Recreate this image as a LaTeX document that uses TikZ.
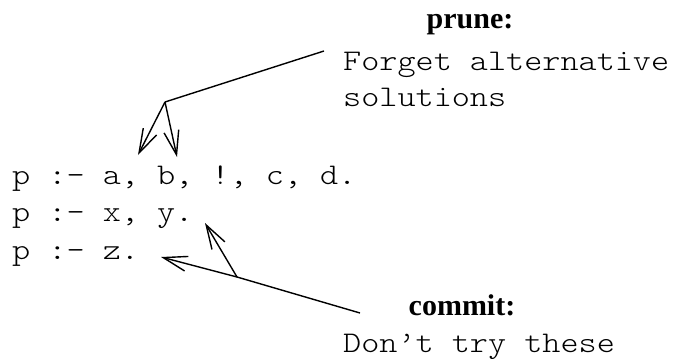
\documentclass[tikz,border=0pt]{standalone}
\usepackage{fontspec}
\setmainfont{Liberation Serif}
\newfontfamily\cour{lmmonolt10-regular.otf}[FakeStretch=1.15]
\usetikzlibrary{arrows.meta}
\tikzset{
  code/.style={anchor=base west, inner sep=0pt, font=\cour\fontsize{30}{36}\selectfont},
  head/.style={anchor=base, inner sep=0pt, font=\bfseries\fontsize{30}{36}\selectfont},
  conn/.style={line width=1.4pt},
  arr/.style={conn, -{Straight Barb[length=24pt,width=15pt,line width=1.4pt]}}
}
\begin{document}
\begin{tikzpicture}[x=1pt,y=-1pt]
\useasboundingbox (0,0) rectangle (678,359);
% code lines
\node[code] (l1) at (12,184) {p :- a, b, !, c, d.};
\node[code] (l2) at (12,221) {p :- x, y.};
\node[code] (l3) at (12,259) {p :- z.};
% prune text
\node[head] (prune) at (470,28) {prune:};
\node[code] (pr1) at (343,70) {Forget alternative};
\node[code] (pr2) at (343,106) {solutions};
% commit text
\node[head] (commit) at (462,315) {commit:};
\node[code] (cm1) at (343,352) {Don’t try these};
% connector points
\coordinate (ps) at (324,51);
\coordinate (pj) at (165,102);
\coordinate (pa) at (138,155);
\coordinate (pb) at (177,157);
\coordinate (cs) at (360,313);
\coordinate (cj) at (237,277);
\coordinate (cz) at (161,257);
\coordinate (cy) at (205,223);
\draw[conn] (ps) -- (pj);
\draw[arr] (pj) -- (pa);
\draw[arr] (pj) -- (pb);
\draw[conn] (cs) -- (cj);
\draw[arr] (cj) -- (cz);
\draw[arr] (cj) -- (cy);
\end{tikzpicture}
\end{document}
